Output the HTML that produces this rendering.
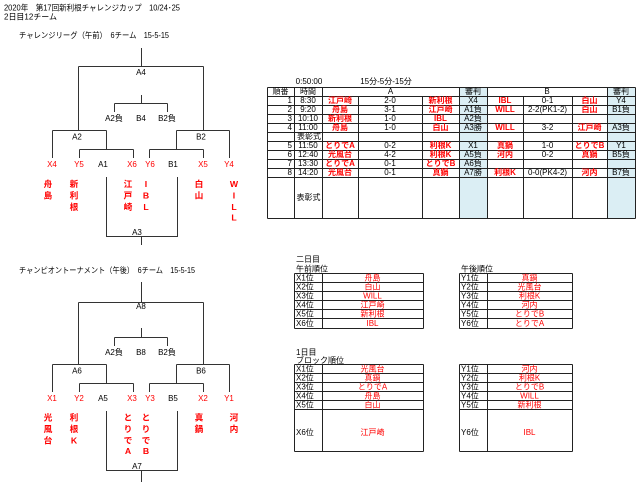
<!DOCTYPE html>
<html><head><meta charset="utf-8"><style>
html,body{margin:0;padding:0;background:#fff;}
svg{display:block;}
text{font-family:"Liberation Sans","Noto Sans CJK JP",sans-serif;font-size:8px;fill:#000;}
.r{fill:#f00;}
.rb{fill:#f00;font-weight:bold;}
.v{font-size:8.7px;}
.m{text-anchor:middle;}
.e{text-anchor:end;}
.ln{stroke:#333;stroke-width:1;fill:none;}
.tl{stroke:#222;stroke-width:1;fill:none;}
</style></head><body>
<svg width="640" height="482" viewBox="0 0 640 482" xmlns="http://www.w3.org/2000/svg">
<!-- headers -->
<text x="4" y="10.5" textLength="176" lengthAdjust="spacingAndGlyphs">2020年　第17回新利根チャレンジカップ　10/24･25</text>
<text x="4" y="19.5" textLength="53" lengthAdjust="spacingAndGlyphs">2日目12チーム</text>
<text x="19" y="38" textLength="150" lengthAdjust="spacingAndGlyphs">チャレンジリーグ（午前）　6チーム　15-5-15</text>
<text x="19" y="273" textLength="176" lengthAdjust="spacingAndGlyphs">チャンピオントーナメント（午後）　6チーム　15-5-15</text>

<!-- bracket 1 -->
<g class="ln">
<path d="M141.5 48V66.5M78.5 66.5H203.5M78.5 66.5V130.5M203.5 66.5V130.5"/>
<path d="M141.5 95V103.5M114.5 103.5H167.5M114.5 103.5V112M167.5 103.5V112"/>
<path d="M52.5 130.5H106.5M52.5 130.5V158M106.5 130.5V149.5M79.5 149.5H133.5M79.5 149.5V158M133.5 149.5V158"/>
<path d="M176.5 130.5H229.5M229.5 130.5V158M176.5 130.5V149.5M149.5 149.5H203.5M149.5 149.5V158M203.5 149.5V158"/>
<path d="M106.5 177V236.5H177.5V177M141.5 236.5V245"/>
</g>
<text class="m" x="141" y="75">A4</text>
<text class="m" x="114" y="121">A2負</text>
<text class="m" x="141" y="121">B4</text>
<text class="m" x="167" y="121">B2負</text>
<text class="m" x="77" y="139.5">A2</text>
<text class="m" x="201" y="139.5">B2</text>
<text class="m r" x="52" y="167">X4</text>
<text class="m r" x="79" y="167">Y5</text>
<text class="m" x="103" y="167">A1</text>
<text class="m r" x="132" y="167">X6</text>
<text class="m r" x="150" y="167">Y6</text>
<text class="m" x="173" y="167">B1</text>
<text class="m r" x="203" y="167">X5</text>
<text class="m r" x="229" y="167">Y4</text>
<text class="m" x="137" y="235">A3</text>
<g>
<text class="m rb v" x="48" y="187">舟</text><text class="m rb v" x="48" y="198.5">島</text>
<text class="m rb v" x="74" y="187">新</text><text class="m rb v" x="74" y="198.5">利</text><text class="m rb v" x="74" y="210">根</text>
<text class="m rb v" x="128" y="187">江</text><text class="m rb v" x="128" y="198.5">戸</text><text class="m rb v" x="128" y="210">崎</text>
<text class="m rb v" x="146" y="187">I</text><text class="m rb v" x="146" y="198.5">B</text><text class="m rb v" x="146" y="210">L</text>
<text class="m rb v" x="199" y="187">白</text><text class="m rb v" x="199" y="198.5">山</text>
<text class="m rb v" x="234" y="187">W</text><text class="m rb v" x="234" y="198.5">I</text><text class="m rb v" x="234" y="210">L</text><text class="m rb v" x="234" y="220.5">L</text>
</g>

<!-- bracket 2 -->
<g class="ln">
<path d="M141.5 282V302.5M78.5 302.5H203.5M78.5 302.5V364.5M203.5 302.5V364.5"/>
<path d="M141.5 328V337.5M114.5 337.5H167.5M114.5 337.5V346M167.5 337.5V346"/>
<path d="M52.5 364.5H106.5M52.5 364.5V392M106.5 364.5V383.5M79.5 383.5H133.5M79.5 383.5V392M133.5 383.5V392"/>
<path d="M176.5 364.5H229.5M229.5 364.5V392M176.5 364.5V383.5M149.5 383.5H203.5M149.5 383.5V392M203.5 383.5V392"/>
<path d="M106.5 411V470.5H177.5V411M141.5 470.5V482"/>
</g>
<text class="m" x="141" y="309">A8</text>
<text class="m" x="114" y="355">A2負</text>
<text class="m" x="141" y="355">B8</text>
<text class="m" x="167" y="355">B2負</text>
<text class="m" x="77" y="373.5">A6</text>
<text class="m" x="201" y="373.5">B6</text>
<text class="m r" x="52" y="401">X1</text>
<text class="m r" x="79" y="401">Y2</text>
<text class="m" x="103" y="401">A5</text>
<text class="m r" x="132" y="401">X3</text>
<text class="m r" x="150" y="401">Y3</text>
<text class="m" x="173" y="401">B5</text>
<text class="m r" x="203" y="401">X2</text>
<text class="m r" x="229" y="401">Y1</text>
<text class="m" x="137" y="469">A7</text>
<text class="m rb v" x="48" y="420.5">光</text><text class="m rb v" x="48" y="432">風</text><text class="m rb v" x="48" y="443.5">台</text>
<text class="m rb v" x="74" y="420.5">利</text><text class="m rb v" x="74" y="432">根</text><text class="m rb v" x="74" y="443.5">K</text>
<text class="m rb v" x="128" y="420.5">と</text><text class="m rb v" x="128" y="432">り</text><text class="m rb v" x="128" y="443.5">で</text><text class="m rb v" x="128" y="454">A</text>
<text class="m rb v" x="146" y="420.5">と</text><text class="m rb v" x="146" y="432">り</text><text class="m rb v" x="146" y="443.5">で</text><text class="m rb v" x="146" y="454">B</text>
<text class="m rb v" x="199" y="420.5">真</text><text class="m rb v" x="199" y="432">鍋</text>
<text class="m rb v" x="234" y="420.5">河</text><text class="m rb v" x="234" y="432">内</text>

<!-- main schedule table -->
<rect x="459.5" y="87.5" width="28" height="131" fill="#dbeef4"/>
<rect x="607.5" y="87.5" width="28" height="131" fill="#dbeef4"/>
<text class="m" x="309" y="84">0:50:00</text>
<text class="m" x="386" y="84">15分-5分-15分</text>
<g class="tl">
<path d="M267.5 87.5H635.5M267.5 96.5H635.5M267.5 105.5H635.5M267.5 114.5H635.5M267.5 123.5H635.5M267.5 132.5H635.5M267.5 141.5H635.5M267.5 150.5H635.5M267.5 159.5H635.5M267.5 168.5H635.5M267.5 177.5H635.5M267.5 218.5H635.5"/>
<path d="M267.5 87.5V218.5M294.5 87.5V218.5M322.5 87.5V218.5M459.5 87.5V218.5M487.5 87.5V218.5M607.5 87.5V218.5M635.5 87.5V218.5"/>
<path d="M358.5 96.5V218.5M422.5 96.5V218.5M523.5 96.5V218.5M572.5 96.5V218.5"/>
</g>
<text class="m" x="280.5" y="94">順番</text>
<text class="m" x="308" y="94">時間</text>
<text class="m" x="390.5" y="94">A</text>
<text class="m" x="473" y="94">審判</text>
<text class="m" x="547" y="94">B</text>
<text class="m" x="621" y="94">審判</text>

<!-- row 1 -->
<text class="e" x="292" y="103">1</text><text class="m" x="308" y="103">8:30</text>
<text class="m rb" x="340" y="103">江戸崎</text><text class="m" x="390" y="103">2-0</text><text class="m rb" x="440.5" y="103">新利根</text>
<text class="m" x="473" y="103">X4</text>
<text class="m rb" x="505" y="103">IBL</text><text class="m" x="547.5" y="103">0-1</text><text class="m rb" x="589.5" y="103">白山</text>
<text class="m" x="621" y="103">Y4</text>
<!-- row 2 -->
<text class="e" x="292" y="112">2</text><text class="m" x="308" y="112">9:20</text>
<text class="m rb" x="340" y="112">舟島</text><text class="m" x="390" y="112">3-1</text><text class="m rb" x="440.5" y="112">江戸崎</text>
<text class="m" x="473" y="112">A1負</text>
<text class="m rb" x="505" y="112">WILL</text><text class="m" x="547.5" y="112">2-2(PK1-2)</text><text class="m rb" x="589.5" y="112">白山</text>
<text class="m" x="621" y="112">B1負</text>
<!-- row 3 -->
<text class="e" x="292" y="121">3</text><text class="m" x="308" y="121">10:10</text>
<text class="m rb" x="340" y="121">新利根</text><text class="m" x="390" y="121">1-0</text><text class="m rb" x="440.5" y="121">IBL</text>
<text class="m" x="473" y="121">A2負</text>
<!-- row 4 -->
<text class="e" x="292" y="130">4</text><text class="m" x="308" y="130">11:00</text>
<text class="m rb" x="340" y="130">舟島</text><text class="m" x="390" y="130">1-0</text><text class="m rb" x="440.5" y="130">白山</text>
<text class="m" x="473" y="130">A3勝</text>
<text class="m rb" x="505" y="130">WILL</text><text class="m" x="547.5" y="130">3-2</text><text class="m rb" x="589.5" y="130">江戸崎</text>
<text class="m" x="621" y="130">A3負</text>
<!-- ceremony -->
<text class="m" x="309" y="139">表彰式</text>
<!-- row 5 -->
<text class="e" x="292" y="148">5</text><text class="m" x="308" y="148">11:50</text>
<text class="m rb" x="340" y="148">とりでA</text><text class="m" x="390" y="148">0-2</text><text class="m rb" x="440.5" y="148">利根K</text>
<text class="m" x="473" y="148">X1</text>
<text class="m rb" x="505" y="148">真鍋</text><text class="m" x="547.5" y="148">1-0</text><text class="m rb" x="589.5" y="148">とりでB</text>
<text class="m" x="621" y="148">Y1</text>
<!-- row 6 -->
<text class="e" x="292" y="157">6</text><text class="m" x="308" y="157">12:40</text>
<text class="m rb" x="340" y="157">光風台</text><text class="m" x="390" y="157">4-2</text><text class="m rb" x="440.5" y="157">利根K</text>
<text class="m" x="473" y="157">A5負</text>
<text class="m rb" x="505" y="157">河内</text><text class="m" x="547.5" y="157">0-2</text><text class="m rb" x="589.5" y="157">真鍋</text>
<text class="m" x="621" y="157">B5負</text>
<!-- row 7 -->
<text class="e" x="292" y="166">7</text><text class="m" x="308" y="166">13:30</text>
<text class="m rb" x="340" y="166">とりでA</text><text class="m" x="390" y="166">0-1</text><text class="m rb" x="440.5" y="166">とりでB</text>
<text class="m" x="473" y="166">A6負</text>
<!-- row 8 -->
<text class="e" x="292" y="175">8</text><text class="m" x="308" y="175">14:20</text>
<text class="m rb" x="340" y="175">光風台</text><text class="m" x="390" y="175">0-1</text><text class="m rb" x="440.5" y="175">真鍋</text>
<text class="m" x="473" y="175">A7勝</text>
<text class="m rb" x="505" y="175">利根K</text><text class="m" x="547.5" y="175">0-0(PK4-2)</text><text class="m rb" x="589.5" y="175">河内</text>
<text class="m" x="621" y="175">B7負</text>
<text class="m" x="308.5" y="200">表彰式</text>

<!-- day 2 rankings -->
<text x="296" y="262">二日目</text>
<text x="296" y="271.5">午前順位</text>
<text x="461" y="271.5">午後順位</text>
<g class="tl">
<path d="M294.5 273.5H423.5M294.5 282.5H423.5M294.5 291.5H423.5M294.5 300.5H423.5M294.5 309.5H423.5M294.5 318.5H423.5M294.5 328.5H423.5M294.5 273.5V328.5M322.5 273.5V328.5M423.5 273.5V328.5"/>
<path d="M459.5 273.5H572.5M459.5 282.5H572.5M459.5 291.5H572.5M459.5 300.5H572.5M459.5 309.5H572.5M459.5 318.5H572.5M459.5 328.5H572.5M459.5 273.5V328.5M487.5 273.5V328.5M572.5 273.5V328.5"/>
</g>
<text x="296" y="280.5">X1位</text><text class="m r" x="372.5" y="280.5">舟島</text>
<text x="296" y="289.5">X2位</text><text class="m r" x="372.5" y="289.5">白山</text>
<text x="296" y="298.5">X3位</text><text class="m r" x="372.5" y="298.5">WILL</text>
<text x="296" y="307.5">X4位</text><text class="m r" x="372.5" y="307.5">江戸崎</text>
<text x="296" y="316.5">X5位</text><text class="m r" x="372.5" y="316.5">新利根</text>
<text x="296" y="326">X6位</text><text class="m r" x="372.5" y="326">IBL</text>
<text x="461" y="280.5">Y1位</text><text class="m r" x="529.5" y="280.5">真鍋</text>
<text x="461" y="289.5">Y2位</text><text class="m r" x="529.5" y="289.5">光風台</text>
<text x="461" y="298.5">Y3位</text><text class="m r" x="529.5" y="298.5">利根K</text>
<text x="461" y="307.5">Y4位</text><text class="m r" x="529.5" y="307.5">河内</text>
<text x="461" y="316.5">Y5位</text><text class="m r" x="529.5" y="316.5">とりでB</text>
<text x="461" y="326">Y6位</text><text class="m r" x="529.5" y="326">とりでA</text>

<!-- day 1 rankings -->
<text x="296" y="355">1日目</text>
<text x="296" y="363">ブロック順位</text>
<g class="tl">
<path d="M294.5 364.5H423.5M294.5 373.5H423.5M294.5 382.5H423.5M294.5 391.5H423.5M294.5 400.5H423.5M294.5 409.5H423.5M294.5 451.5H423.5M294.5 364.5V451.5M322.5 364.5V451.5M423.5 364.5V451.5"/>
<path d="M459.5 364.5H572.5M459.5 373.5H572.5M459.5 382.5H572.5M459.5 391.5H572.5M459.5 400.5H572.5M459.5 409.5H572.5M459.5 451.5H572.5M459.5 364.5V451.5M487.5 364.5V451.5M572.5 364.5V451.5"/>
</g>
<text x="296" y="371.5">X1位</text><text class="m r" x="372.5" y="371.5">光風台</text>
<text x="296" y="380.5">X2位</text><text class="m r" x="372.5" y="380.5">真鍋</text>
<text x="296" y="389.5">X3位</text><text class="m r" x="372.5" y="389.5">とりでA</text>
<text x="296" y="398.5">X4位</text><text class="m r" x="372.5" y="398.5">舟島</text>
<text x="296" y="407.5">X5位</text><text class="m r" x="372.5" y="407.5">白山</text>
<text x="296" y="435">X6位</text><text class="m r" x="372.5" y="435">江戸崎</text>
<text x="461" y="371.5">Y1位</text><text class="m r" x="529.5" y="371.5">河内</text>
<text x="461" y="380.5">Y2位</text><text class="m r" x="529.5" y="380.5">利根K</text>
<text x="461" y="389.5">Y3位</text><text class="m r" x="529.5" y="389.5">とりでB</text>
<text x="461" y="398.5">Y4位</text><text class="m r" x="529.5" y="398.5">WILL</text>
<text x="461" y="407.5">Y5位</text><text class="m r" x="529.5" y="407.5">新利根</text>
<text x="461" y="435">Y6位</text><text class="m r" x="529.5" y="435">IBL</text>
</svg>
</body></html>
